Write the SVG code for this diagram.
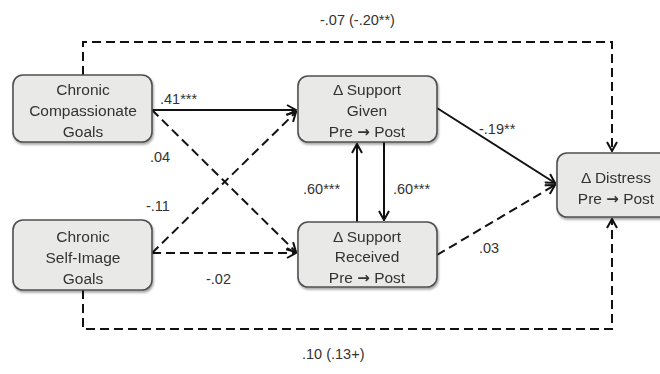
<svg xmlns="http://www.w3.org/2000/svg" width="660" height="374" viewBox="0 0 660 374">
<style>
.box{fill:#e9e9e7;stroke:#505050;stroke-width:1.6}
.t{font-family:"Liberation Sans",Arial,sans-serif;font-size:15.5px;fill:#333;text-anchor:middle}
.ar{font-family:"DejaVu Sans",sans-serif;font-weight:bold;font-size:15px}
.lbl{font-family:"Liberation Sans",Arial,sans-serif;font-size:14.5px;fill:#333}
.s{fill:none;stroke:#111;stroke-width:2}
.d{fill:none;stroke:#111;stroke-width:2;stroke-dasharray:9 5}
</style>
<defs>
<marker id="ah" viewBox="0 0 12 12" refX="11" refY="6" markerWidth="12" markerHeight="12" markerUnits="userSpaceOnUse" orient="auto">
<polyline points="2,1 11,6 2,11" fill="none" stroke="#111" stroke-width="2"/>
</marker>
<filter id="sh" x="-10%" y="-10%" width="130%" height="130%">
<feGaussianBlur in="SourceAlpha" stdDeviation="1.2"/>
<feOffset dx="1" dy="1.5" result="o"/>
<feComponentTransfer><feFuncA type="linear" slope="0.35"/></feComponentTransfer>
<feMerge><feMergeNode/><feMergeNode in="SourceGraphic"/></feMerge>
</filter>
</defs>
<g id="connectors">
<path class="d" d="M83,75 V42 H612 V151" marker-end="url(#ah)"/>
<path class="d" d="M83,290 V329 H612 V219" marker-end="url(#ah)"/>
<line class="s" x1="152" y1="110" x2="296" y2="110" marker-end="url(#ah)"/>
<line class="d" x1="152" y1="110" x2="296" y2="252" marker-end="url(#ah)"/>
<line class="d" x1="152" y1="253" x2="296" y2="112" marker-end="url(#ah)"/>
<line class="d" x1="152" y1="253" x2="296" y2="253" marker-end="url(#ah)"/>
<line class="s" x1="357" y1="222" x2="357" y2="144" marker-end="url(#ah)"/>
<line class="s" x1="384" y1="142" x2="384" y2="220" marker-end="url(#ah)"/>
<line class="s" x1="437" y1="108" x2="555" y2="183" marker-end="url(#ah)"/>
<line class="d" x1="437" y1="255" x2="555" y2="185" marker-end="url(#ah)"/>
<text class="lbl" x="320" y="25">-.07 (-.20**)</text>
<text class="lbl" x="302" y="359">.10 (.13+)</text>
<text class="lbl" x="160" y="104">.41***</text>
<text class="lbl" x="150" y="162">.04</text>
<text class="lbl" x="146" y="211">-.11</text>
<text class="lbl" x="206" y="284">-.02</text>
<text class="lbl" x="303" y="194">.60***</text>
<text class="lbl" x="393" y="194">.60***</text>
<text class="lbl" x="479" y="134">-.19**</text>
<text class="lbl" x="479" y="253">.03</text>
</g>
<g id="compassionate" filter="url(#sh)">
<rect class="box" x="13" y="75" width="139" height="67" rx="10"/>
<text class="t" x="83" y="95">Chronic</text>
<text class="t" x="83" y="116">Compassionate</text>
<text class="t" x="83" y="137">Goals</text>
</g>
<g id="selfimage" filter="url(#sh)">
<rect class="box" x="13" y="220" width="139" height="70" rx="10"/>
<text class="t" x="83" y="242">Chronic</text>
<text class="t" x="83" y="263">Self-Image</text>
<text class="t" x="83" y="284">Goals</text>
</g>
<g id="given" filter="url(#sh)">
<rect class="box" x="298" y="76" width="139" height="66" rx="10"/>
<text class="t" x="367" y="95">Δ Support</text>
<text class="t" x="367" y="116">Given</text>
<text class="t" x="367" y="137">Pre <tspan class="ar">→</tspan> Post</text>
</g>
<g id="received" filter="url(#sh)">
<rect class="box" x="298" y="222" width="139" height="65" rx="10"/>
<text class="t" x="367" y="242">Δ Support</text>
<text class="t" x="367" y="262">Received</text>
<text class="t" x="367" y="283">Pre <tspan class="ar">→</tspan> Post</text>
</g>
<g id="distress" filter="url(#sh)">
<rect class="box" x="557" y="153" width="115" height="64" rx="10"/>
<text class="t" x="616" y="183">Δ Distress</text>
<text class="t" x="616" y="204">Pre <tspan class="ar">→</tspan> Post</text>
</g>
</svg>
